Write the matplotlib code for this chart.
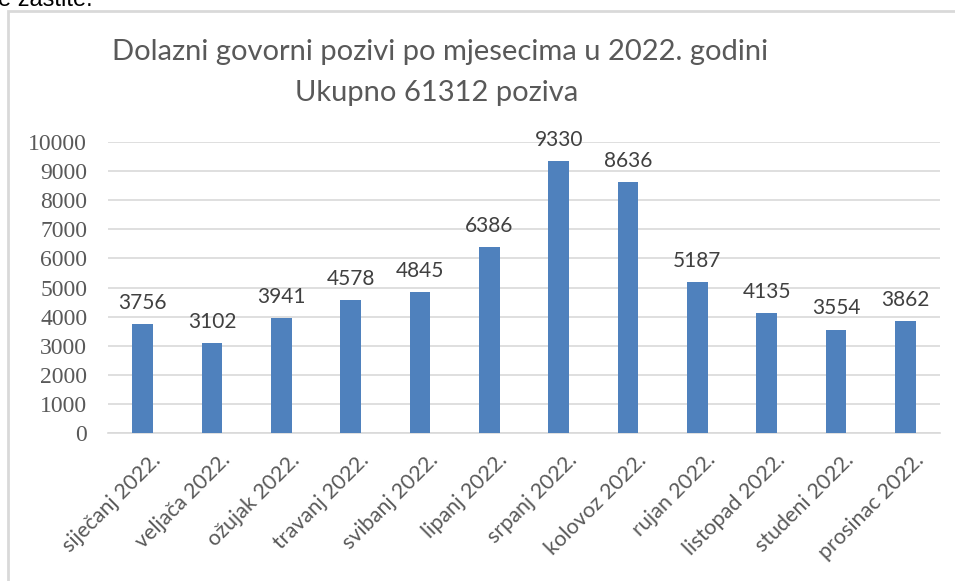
import matplotlib
matplotlib.use("Agg")
import matplotlib.pyplot as plt
from matplotlib.patches import Rectangle
from matplotlib.transforms import ScaledTranslation

categories = ["siječanj 2022.", "veljača 2022.", "ožujak 2022.", "travanj 2022.",
              "svibanj 2022.", "lipanj 2022.", "srpanj 2022.", "kolovoz 2022.",
              "rujan 2022.", "listopad 2022.", "studeni 2022.", "prosinac 2022."]
values = [3756, 3102, 3941, 4578, 4845, 6386, 9330, 8636, 5187, 4135, 3554, 3862]
yticks = [0, 1000, 2000, 3000, 4000, 5000, 6000, 7000, 8000, 9000, 10000]
title_lines = ["Dolazni govorni pozivi po mjesecima u 2022. godini", "Ukupno 61312 poziva"]

W, H = 955, 581
fig = plt.figure(figsize=(W / 100, H / 100), dpi=100)
fig.patch.set_facecolor("white")

# chart border (outer frame partly outside the image)
fig.patches.append(Rectangle((8 / W, -0.1), 1.2, 1 - 11 / H + 0.1, transform=fig.transFigure,
                             fill=False, edgecolor="#d9d9d9", linewidth=2))
# cut-off document text at top
fig.text(-2 / W, 1 - 6 / H, "e zaštite.", family="Liberation Sans", fontsize=17,
         color="black", va="baseline", ha="left")

ax = fig.add_axes([108 / W, (H - 433) / H, (940 - 108) / W, (433 - 142) / H])
x = list(range(len(categories)))
ax.bar(x, values, width=0.3, color="#4f81bd", zorder=3)
ax.set_xlim(-0.5, len(categories) - 0.5)
ax.set_ylim(0, 10000)
ax.set_yticks(yticks)
ax.set_yticklabels([str(v) for v in yticks], family="Liberation Serif", fontsize=17, color="#595959")
ax.yaxis.grid(True, color="#d9d9d9", linewidth=1.2, zorder=0)
ax.set_axisbelow(True)
for s in ["top", "right", "left"]:
    ax.spines[s].set_visible(False)
ax.spines["bottom"].set_color("#d9d9d9")
ax.spines["bottom"].set_linewidth(1.2)
ax.tick_params(axis="both", length=0)
ax.tick_params(axis="y", pad=15)
ax.set_xticks(x)
ax.set_xticklabels(categories, rotation=45, ha="right", rotation_mode="anchor",
                   family="Lato", fontsize=15.5, color="#595959")
ax.tick_params(axis="x", pad=12)
for lbl in ax.get_xticklabels():
    lbl.set_transform(lbl.get_transform() + ScaledTranslation(8 / 100, 0, fig.dpi_scale_trans))

for xi, v in zip(x, values):
    ax.annotate(str(v), (xi, v), xytext=(0, 8), textcoords="offset points",
                ha="center", va="bottom", family="Lato", fontsize=15, color="#404040")

fig.text(440 / W, 1 - 52 / H, title_lines[0], family="Lato", fontsize=21, color="#595959",
         ha="center", va="center")
fig.text(437 / W, 1 - 93 / H, title_lines[1], family="Lato", fontsize=21, color="#595959",
         ha="center", va="center")

fig.savefig("out.png", dpi=100)
